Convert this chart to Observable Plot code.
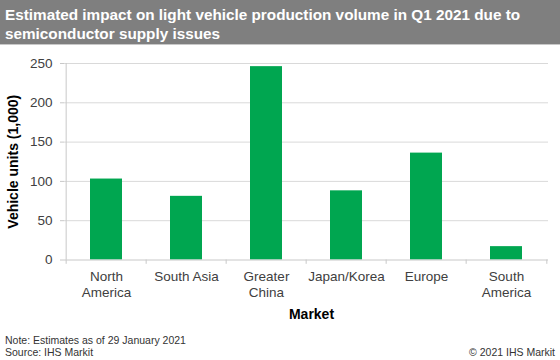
<!DOCTYPE html>
<html><head><meta charset="utf-8">
<script src="https://cdn.jsdelivr.net/npm/d3@7"></script>
<script src="https://cdn.jsdelivr.net/npm/@observablehq/plot@0.6"></script>
<style>
body{margin:0;width:560px;height:360px;overflow:hidden;font-family:"Liberation Sans",Arial,sans-serif;background:#fff;position:relative}
#title{position:absolute;left:0;top:0;width:560px;height:45px;background:#7f7f7f;color:#fff;font-weight:bold;font-size:15.3px;line-height:19px;padding:5px 0 0 5px;box-sizing:border-box;border-bottom:1px solid #c8c8c8}
#chart{position:absolute;top:45px;left:0}
.foot{position:absolute;font-size:10.5px;color:#333;line-height:12px}
</style></head><body>
<div id="title">Estimated impact on light vehicle production volume in Q1 2021 due to<br>semiconductor supply issues</div>
<div id="chart"></div>
<div class="foot" style="left:5px;top:334px">Note: Estimates as of 29 January 2021<br>Source: IHS Markit</div>
<div class="foot" style="right:5px;top:346px">© 2021 IHS Markit</div>
<script>
const markets = ["North America","South Asia","Greater China","Japan/Korea","Europe","South America"];
const xLabels = ["North\nAmerica","South Asia","Greater\nChina","Japan/Korea","Europe","South\nAmerica"];
const values = [103, 81, 246, 88, 136, 17];
const yTicks = [0,50,100,150,200,250];
const yLabel = "Vehicle units (1,000)";
const xLabel = "Market";

const data = markets.map((m,i)=>({market:m, value:values[i], label:xLabels[i]}));
const step = (560-64-12)/markets.length;
const plot = Plot.plot({
  width:560, height:285, marginTop:18, marginBottom:70.5, marginLeft:64, marginRight:12,
  style:{fontFamily:"Liberation Sans, Arial, sans-serif", fontSize:"13.5px", color:"#404040", background:"transparent"},
  x:{domain:markets, paddingInner:0.6, paddingOuter:0.3, label:null, axis:null},
  y:{domain:[0,250], ticks:yTicks, label:null, axis:null},
  marks:[
    Plot.gridY(yTicks.filter(d=>d>0),{stroke:"#d9d9d9", strokeOpacity:1}),
    Plot.barY(data,{x:"market", y:"value", fill:"#00a650"}),
    Plot.ruleY([0],{stroke:"#c8c8c8"}),
    Plot.ruleX([markets[0]],{y1:0, y2:250, dx:-step/2, stroke:"#c8c8c8"}),
    Plot.ruleX(markets,{y1:0, y2:-5.5, dx:-step/2, stroke:"#c8c8c8"}),
    Plot.ruleX([markets[markets.length-1]],{y1:0, y2:-5.5, dx:step/2, stroke:"#c8c8c8"}),
    Plot.axisY(yTicks,{tickSize:4, tickPadding:8, stroke:"#c8c8c8", fill:"#404040", label:null}),
    Plot.text(data,{x:"market", y:0, text:"label", dy:9, lineAnchor:"top", lineHeight:1.2, fill:"#404040"}),
    Plot.text([yLabel],{frameAnchor:"left", dx:-51, rotate:-90, textAnchor:"middle", lineAnchor:"middle", fontWeight:"bold", fontSize:14, fill:"#000"}),
    Plot.text([xLabel],{frameAnchor:"bottom", dy:54.5, dx:5, lineAnchor:"middle", fontWeight:"bold", fontSize:14, fill:"#000"})
  ]
});
document.getElementById("chart").appendChild(plot);
</script>
</body></html>
